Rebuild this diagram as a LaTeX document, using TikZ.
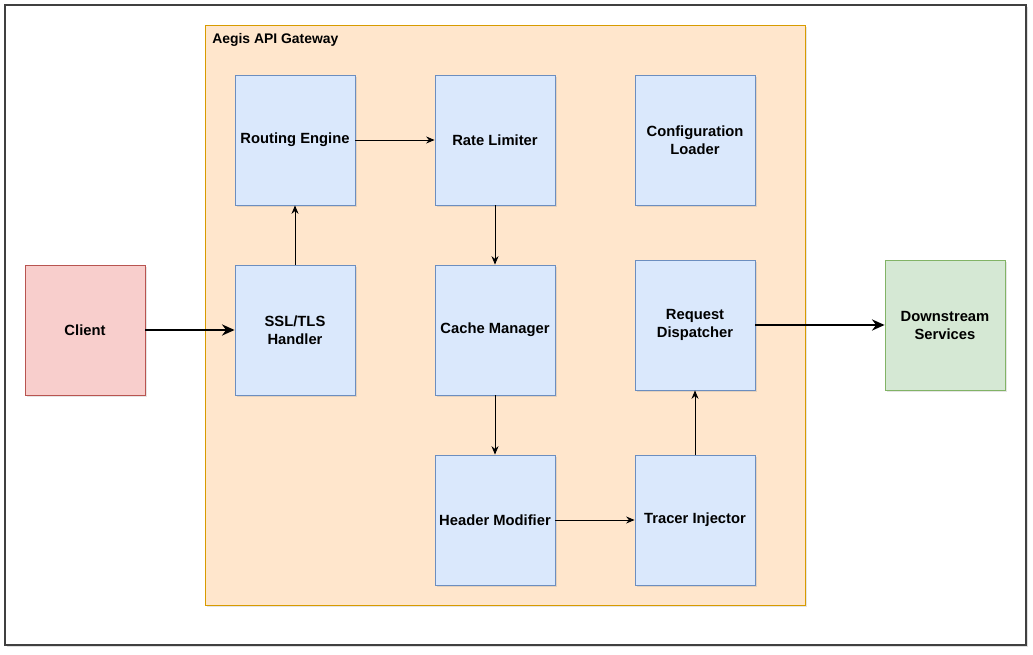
\documentclass[tikz,border=0pt]{standalone}
\usepackage{fontspec}
\setmainfont{Liberation Sans}
\usetikzlibrary{arrows.meta,shadows}
\definecolor{blueFill}{HTML}{DAE8FC}
\definecolor{blueLine}{HTML}{6C8EBF}
\definecolor{redFill}{HTML}{F8CECC}
\definecolor{redLine}{HTML}{B85450}
\definecolor{greenFill}{HTML}{D5E8D4}
\definecolor{greenLine}{HTML}{82B366}
\definecolor{orangeFill}{HTML}{FFE6CC}
\definecolor{orangeLine}{HTML}{D79B00}
\tikzset{
  box/.style={draw=blueLine,fill=blueFill,line width=0.6pt,
    minimum width=3cm,minimum height=3.25cm,align=center,inner sep=1pt,
    font=\fontsize{10.5}{12.8}\selectfont\bfseries,
    drop shadow={opacity=0.2,shadow xshift=1.2pt,shadow yshift=-1.2pt}},
  flow/.style={-{Stealth[length=6pt,width=5pt,inset=2pt]},line width=0.55pt},
  bigflow/.style={-{Stealth[length=9pt,width=8pt,inset=3pt]},line width=1.3pt}
}
\begin{document}
\begin{tikzpicture}[x=0.025cm,y=-0.025cm]
  \useasboundingbox (0,0) rectangle (1033,655);
  % frame and gateway
  \draw[line width=1.6pt,draw=black!75,fill=white,
    drop shadow={opacity=0.25,shadow xshift=1.5pt,shadow yshift=-1.5pt}]
    (5,5) rectangle (1026,645);
  \draw[draw=orangeLine,fill=orangeFill,line width=0.6pt,
    drop shadow={opacity=0.2,shadow xshift=1.2pt,shadow yshift=-1.2pt}]
    (205,25) rectangle (805,605);
  \node[anchor=west,inner sep=0pt,font=\fontsize{9.9}{12}\selectfont\bfseries] (GW) at (212,40) {Aegis API Gateway};
  % components
  \node[box] (RE) at (295,140) {Routing Engine};
  \node[box] (RL) at (495,140) {Rate Limiter};
  \node[box] (CL) at (695,140) {Configuration\\Loader};
  \node[box] (SSL) at (295,330) {SSL/TLS\\Handler};
  \node[box] (CM) at (495,330) {Cache Manager};
  \node[box] (RD) at (695,325) {Request\\Dispatcher};
  \node[box] (HM) at (495,520) {Header Modifier};
  \node[box] (TI) at (695,520) {Tracer Injector};
  \node[box,draw=redLine,fill=redFill] (Cl) at (85,330) {Client};
  \node[box,draw=greenLine,fill=greenFill] (DS) at (945,325) {Downstream\\Services};
  % connectors
  \draw[bigflow] (Cl) -- (SSL);
  \draw[flow] (SSL) -- (RE);
  \draw[flow] (RE) -- (RL);
  \draw[flow] (RL) -- (CM);
  \draw[flow] (CM) -- (HM);
  \draw[flow] (HM) -- (TI);
  \draw[flow] (TI) -- (RD);
  \draw[bigflow] (RD) -- (DS);
\end{tikzpicture}
\end{document}
